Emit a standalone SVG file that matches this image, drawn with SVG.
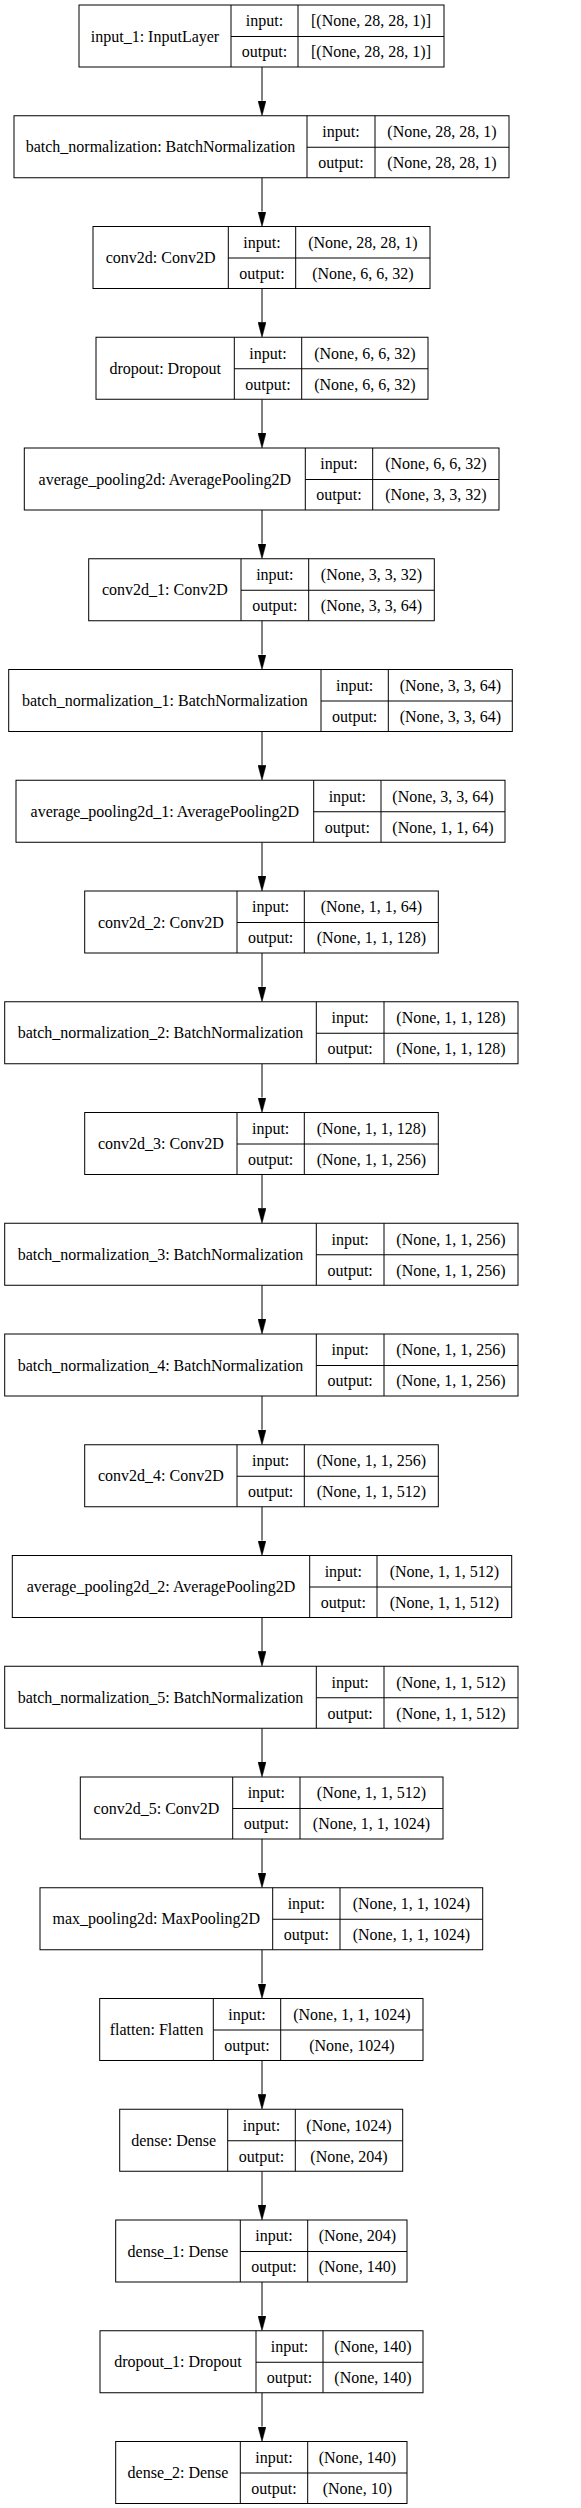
<svg xmlns="http://www.w3.org/2000/svg" width="581" height="2508" viewBox="0 0 581 2508">
<style>
rect.b{fill:#fff;stroke:#000;stroke-width:1}
path.d{fill:none;stroke:#000;stroke-width:1}
text{font-family:"Liberation Serif","Times New Roman",serif;font-size:16px;text-anchor:middle;fill:#000}
line.e{stroke:#000;stroke-width:1}
</style>
<defs>
<marker id="ah" viewBox="0 0 15 8" refX="0" refY="4" markerWidth="15" markerHeight="8" markerUnits="userSpaceOnUse" orient="auto">
<path d="M0,0 L15,4 L0,8 z" fill="#000" stroke="#000" stroke-width="0.5"/>
</marker>
</defs>
<rect width="581" height="2508" fill="#fff"/>
<g id="connectors">
<line class="e" x1="262" y1="67" x2="262" y2="100.75" marker-end="url(#ah)"/>
<line class="e" x1="262" y1="177.75" x2="262" y2="211.5" marker-end="url(#ah)"/>
<line class="e" x1="262" y1="288.5" x2="262" y2="322.25" marker-end="url(#ah)"/>
<line class="e" x1="262" y1="399.25" x2="262" y2="433" marker-end="url(#ah)"/>
<line class="e" x1="262" y1="510" x2="262" y2="543.75" marker-end="url(#ah)"/>
<line class="e" x1="262" y1="620.75" x2="262" y2="654.5" marker-end="url(#ah)"/>
<line class="e" x1="262" y1="731.5" x2="262" y2="765.25" marker-end="url(#ah)"/>
<line class="e" x1="262" y1="842.25" x2="262" y2="876" marker-end="url(#ah)"/>
<line class="e" x1="262" y1="953" x2="262" y2="986.75" marker-end="url(#ah)"/>
<line class="e" x1="262" y1="1063.75" x2="262" y2="1097.5" marker-end="url(#ah)"/>
<line class="e" x1="262" y1="1174.5" x2="262" y2="1208.25" marker-end="url(#ah)"/>
<line class="e" x1="262" y1="1285.25" x2="262" y2="1319" marker-end="url(#ah)"/>
<line class="e" x1="262" y1="1396" x2="262" y2="1429.75" marker-end="url(#ah)"/>
<line class="e" x1="262" y1="1506.75" x2="262" y2="1540.5" marker-end="url(#ah)"/>
<line class="e" x1="262" y1="1617.5" x2="262" y2="1651.25" marker-end="url(#ah)"/>
<line class="e" x1="262" y1="1728.25" x2="262" y2="1762" marker-end="url(#ah)"/>
<line class="e" x1="262" y1="1839" x2="262" y2="1872.75" marker-end="url(#ah)"/>
<line class="e" x1="262" y1="1949.75" x2="262" y2="1983.5" marker-end="url(#ah)"/>
<line class="e" x1="262" y1="2060.5" x2="262" y2="2094.25" marker-end="url(#ah)"/>
<line class="e" x1="262" y1="2171.25" x2="262" y2="2205" marker-end="url(#ah)"/>
<line class="e" x1="262" y1="2282" x2="262" y2="2315.75" marker-end="url(#ah)"/>
<line class="e" x1="262" y1="2392.75" x2="262" y2="2426.5" marker-end="url(#ah)"/>
</g>
<g id="input_1">
<rect class="b" x="79" y="5" width="365" height="62"/>
<path class="d" d="M231,5V67M298,5V67M231,36.5H444"/>
<text x="155" y="41.5">input_1: InputLayer</text>
<text x="264.5" y="26.25">input:</text><text x="371" y="26.25">[(None, 28, 28, 1)]</text>
<text x="264.5" y="57.25">output:</text><text x="371" y="57.25">[(None, 28, 28, 1)]</text>
</g>
<g id="batch_normalization">
<rect class="b" x="14" y="115.75" width="495" height="62"/>
<path class="d" d="M307,115.75V177.75M375,115.75V177.75M307,147.25H509"/>
<text x="160.5" y="152.25">batch_normalization: BatchNormalization</text>
<text x="341" y="137">input:</text><text x="442" y="137">(None, 28, 28, 1)</text>
<text x="341" y="168">output:</text><text x="442" y="168">(None, 28, 28, 1)</text>
</g>
<g id="conv2d">
<rect class="b" x="93" y="226.5" width="337" height="62"/>
<path class="d" d="M228.3,226.5V288.5M295.7,226.5V288.5M228.3,258H430"/>
<text x="160.65" y="263">conv2d: Conv2D</text>
<text x="262" y="247.75">input:</text><text x="362.85" y="247.75">(None, 28, 28, 1)</text>
<text x="262" y="278.75">output:</text><text x="362.85" y="278.75">(None, 6, 6, 32)</text>
</g>
<g id="dropout">
<rect class="b" x="96" y="337.25" width="332" height="62"/>
<path class="d" d="M234.3,337.25V399.25M301.7,337.25V399.25M234.3,368.75H428"/>
<text x="165.15" y="373.75">dropout: Dropout</text>
<text x="268" y="358.5">input:</text><text x="364.85" y="358.5">(None, 6, 6, 32)</text>
<text x="268" y="389.5">output:</text><text x="364.85" y="389.5">(None, 6, 6, 32)</text>
</g>
<g id="average_pooling2d">
<rect class="b" x="24.3" y="448" width="474.7" height="62"/>
<path class="d" d="M305.3,448V510M372.7,448V510M305.3,479.5H499"/>
<text x="164.8" y="484.5">average_pooling2d: AveragePooling2D</text>
<text x="339" y="469.25">input:</text><text x="435.85" y="469.25">(None, 6, 6, 32)</text>
<text x="339" y="500.25">output:</text><text x="435.85" y="500.25">(None, 3, 3, 32)</text>
</g>
<g id="conv2d_1">
<rect class="b" x="88.7" y="558.75" width="345.6" height="62"/>
<path class="d" d="M241,558.75V620.75M308.7,558.75V620.75M241,590.25H434.3"/>
<text x="164.85" y="595.25">conv2d_1: Conv2D</text>
<text x="274.85" y="580">input:</text><text x="371.5" y="580">(None, 3, 3, 32)</text>
<text x="274.85" y="611">output:</text><text x="371.5" y="611">(None, 3, 3, 64)</text>
</g>
<g id="batch_normalization_1">
<rect class="b" x="8.7" y="669.5" width="503.6" height="62"/>
<path class="d" d="M321,669.5V731.5M388.3,669.5V731.5M321,701H512.3"/>
<text x="164.85" y="706">batch_normalization_1: BatchNormalization</text>
<text x="354.65" y="690.75">input:</text><text x="450.3" y="690.75">(None, 3, 3, 64)</text>
<text x="354.65" y="721.75">output:</text><text x="450.3" y="721.75">(None, 3, 3, 64)</text>
</g>
<g id="average_pooling2d_1">
<rect class="b" x="16" y="780.25" width="489" height="62"/>
<path class="d" d="M313.7,780.25V842.25M381,780.25V842.25M313.7,811.75H505"/>
<text x="164.85" y="816.75">average_pooling2d_1: AveragePooling2D</text>
<text x="347.35" y="801.5">input:</text><text x="443" y="801.5">(None, 3, 3, 64)</text>
<text x="347.35" y="832.5">output:</text><text x="443" y="832.5">(None, 1, 1, 64)</text>
</g>
<g id="conv2d_2">
<rect class="b" x="84.7" y="891" width="353.6" height="62"/>
<path class="d" d="M237,891V953M304.3,891V953M237,922.5H438.3"/>
<text x="160.85" y="927.5">conv2d_2: Conv2D</text>
<text x="270.65" y="912.25">input:</text><text x="371.3" y="912.25">(None, 1, 1, 64)</text>
<text x="270.65" y="943.25">output:</text><text x="371.3" y="943.25">(None, 1, 1, 128)</text>
</g>
<g id="batch_normalization_2">
<rect class="b" x="4.7" y="1001.75" width="513.3" height="62"/>
<path class="d" d="M316.3,1001.75V1063.75M384,1001.75V1063.75M316.3,1033.25H518"/>
<text x="160.5" y="1038.25">batch_normalization_2: BatchNormalization</text>
<text x="350.15" y="1023">input:</text><text x="451" y="1023">(None, 1, 1, 128)</text>
<text x="350.15" y="1054">output:</text><text x="451" y="1054">(None, 1, 1, 128)</text>
</g>
<g id="conv2d_3">
<rect class="b" x="84.7" y="1112.5" width="353.6" height="62"/>
<path class="d" d="M237,1112.5V1174.5M304.3,1112.5V1174.5M237,1144H438.3"/>
<text x="160.85" y="1149">conv2d_3: Conv2D</text>
<text x="270.65" y="1133.75">input:</text><text x="371.3" y="1133.75">(None, 1, 1, 128)</text>
<text x="270.65" y="1164.75">output:</text><text x="371.3" y="1164.75">(None, 1, 1, 256)</text>
</g>
<g id="batch_normalization_3">
<rect class="b" x="4.7" y="1223.25" width="513.3" height="62"/>
<path class="d" d="M316.3,1223.25V1285.25M384,1223.25V1285.25M316.3,1254.75H518"/>
<text x="160.5" y="1259.75">batch_normalization_3: BatchNormalization</text>
<text x="350.15" y="1244.5">input:</text><text x="451" y="1244.5">(None, 1, 1, 256)</text>
<text x="350.15" y="1275.5">output:</text><text x="451" y="1275.5">(None, 1, 1, 256)</text>
</g>
<g id="batch_normalization_4">
<rect class="b" x="4.7" y="1334" width="513.3" height="62"/>
<path class="d" d="M316.3,1334V1396M384,1334V1396M316.3,1365.5H518"/>
<text x="160.5" y="1370.5">batch_normalization_4: BatchNormalization</text>
<text x="350.15" y="1355.25">input:</text><text x="451" y="1355.25">(None, 1, 1, 256)</text>
<text x="350.15" y="1386.25">output:</text><text x="451" y="1386.25">(None, 1, 1, 256)</text>
</g>
<g id="conv2d_4">
<rect class="b" x="84.7" y="1444.75" width="353.6" height="62"/>
<path class="d" d="M237,1444.75V1506.75M304.3,1444.75V1506.75M237,1476.25H438.3"/>
<text x="160.85" y="1481.25">conv2d_4: Conv2D</text>
<text x="270.65" y="1466">input:</text><text x="371.3" y="1466">(None, 1, 1, 256)</text>
<text x="270.65" y="1497">output:</text><text x="371.3" y="1497">(None, 1, 1, 512)</text>
</g>
<g id="average_pooling2d_2">
<rect class="b" x="12.3" y="1555.5" width="499.4" height="62"/>
<path class="d" d="M309.7,1555.5V1617.5M377,1555.5V1617.5M309.7,1587H511.7"/>
<text x="161" y="1592">average_pooling2d_2: AveragePooling2D</text>
<text x="343.35" y="1576.75">input:</text><text x="444.35" y="1576.75">(None, 1, 1, 512)</text>
<text x="343.35" y="1607.75">output:</text><text x="444.35" y="1607.75">(None, 1, 1, 512)</text>
</g>
<g id="batch_normalization_5">
<rect class="b" x="4.7" y="1666.25" width="513.3" height="62"/>
<path class="d" d="M316.3,1666.25V1728.25M384,1666.25V1728.25M316.3,1697.75H518"/>
<text x="160.5" y="1702.75">batch_normalization_5: BatchNormalization</text>
<text x="350.15" y="1687.5">input:</text><text x="451" y="1687.5">(None, 1, 1, 512)</text>
<text x="350.15" y="1718.5">output:</text><text x="451" y="1718.5">(None, 1, 1, 512)</text>
</g>
<g id="conv2d_5">
<rect class="b" x="80.3" y="1777" width="362.7" height="62"/>
<path class="d" d="M232.7,1777V1839M300,1777V1839M232.7,1808.5H443"/>
<text x="156.5" y="1813.5">conv2d_5: Conv2D</text>
<text x="266.35" y="1798.25">input:</text><text x="371.5" y="1798.25">(None, 1, 1, 512)</text>
<text x="266.35" y="1829.25">output:</text><text x="371.5" y="1829.25">(None, 1, 1, 1024)</text>
</g>
<g id="max_pooling2d">
<rect class="b" x="40" y="1887.75" width="442.7" height="62"/>
<path class="d" d="M272.7,1887.75V1949.75M340,1887.75V1949.75M272.7,1919.25H482.7"/>
<text x="156.35" y="1924.25">max_pooling2d: MaxPooling2D</text>
<text x="306.35" y="1909">input:</text><text x="411.35" y="1909">(None, 1, 1, 1024)</text>
<text x="306.35" y="1940">output:</text><text x="411.35" y="1940">(None, 1, 1, 1024)</text>
</g>
<g id="flatten">
<rect class="b" x="99.7" y="1998.5" width="323.3" height="62"/>
<path class="d" d="M213.3,1998.5V2060.5M280.7,1998.5V2060.5M213.3,2030H423"/>
<text x="156.5" y="2035">flatten: Flatten</text>
<text x="247" y="2019.75">input:</text><text x="351.85" y="2019.75">(None, 1, 1, 1024)</text>
<text x="247" y="2050.75">output:</text><text x="351.85" y="2050.75">(None, 1024)</text>
</g>
<g id="dense">
<rect class="b" x="119.7" y="2109.25" width="283" height="62"/>
<path class="d" d="M227.7,2109.25V2171.25M295.3,2109.25V2171.25M227.7,2140.75H402.7"/>
<text x="173.7" y="2145.75">dense: Dense</text>
<text x="261.5" y="2130.5">input:</text><text x="349" y="2130.5">(None, 1024)</text>
<text x="261.5" y="2161.5">output:</text><text x="349" y="2161.5">(None, 204)</text>
</g>
<g id="dense_1">
<rect class="b" x="115.7" y="2220" width="291.3" height="62"/>
<path class="d" d="M240.3,2220V2282M307.7,2220V2282M240.3,2251.5H407"/>
<text x="178" y="2256.5">dense_1: Dense</text>
<text x="274" y="2241.25">input:</text><text x="357.35" y="2241.25">(None, 204)</text>
<text x="274" y="2272.25">output:</text><text x="357.35" y="2272.25">(None, 140)</text>
</g>
<g id="dropout_1">
<rect class="b" x="100" y="2330.75" width="323" height="62"/>
<path class="d" d="M256,2330.75V2392.75M323,2330.75V2392.75M256,2362.25H423"/>
<text x="178" y="2367.25">dropout_1: Dropout</text>
<text x="289.5" y="2352">input:</text><text x="373" y="2352">(None, 140)</text>
<text x="289.5" y="2383">output:</text><text x="373" y="2383">(None, 140)</text>
</g>
<g id="dense_2">
<rect class="b" x="115.7" y="2441.5" width="291.3" height="62"/>
<path class="d" d="M240.3,2441.5V2503.5M307.7,2441.5V2503.5M240.3,2473H407"/>
<text x="178" y="2478">dense_2: Dense</text>
<text x="274" y="2462.75">input:</text><text x="357.35" y="2462.75">(None, 140)</text>
<text x="274" y="2493.75">output:</text><text x="357.35" y="2493.75">(None, 10)</text>
</g>
</svg>
